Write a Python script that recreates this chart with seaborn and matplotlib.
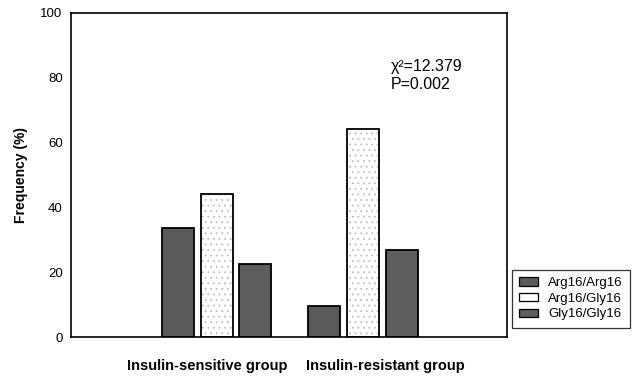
import matplotlib
matplotlib.use("Agg")
import matplotlib.pyplot as plt
import seaborn as sns
import pandas as pd
from matplotlib.patches import Patch, Rectangle

groups = ["Insulin-sensitive group", "Insulin-resistant group"]
genotypes = ["Arg16/Arg16", "Arg16/Gly16", "Gly16/Gly16"]
sensitive = [33.8, 44.2, 22.4]
resistant = [9.7, 64.2, 26.9]
yticks = [0, 20, 40, 60, 80, 100]

df = pd.DataFrame({
    "group": [groups[0]] * 3 + [groups[1]] * 3,
    "genotype": genotypes * 2,
    "freq": sensitive + resistant,
})

sns.set_theme(style="white")
plt.rcParams["font.family"] = ["Liberation Sans", "DejaVu Sans"]
plt.rcParams["text.color"] = "black"
plt.rcParams["axes.labelcolor"] = "black"
plt.rcParams["xtick.color"] = "black"
plt.rcParams["ytick.color"] = "black"
plt.rcParams["hatch.linewidth"] = 0.6

fig = plt.figure(figsize=(6.37, 3.8), dpi=100)
ax = fig.add_axes([0.1115, 0.113, 0.6845, 0.853])

colors = {"Arg16/Arg16": "#5a5a5a", "Arg16/Gly16": "#ffffff", "Gly16/Gly16": "#5e5e5e"}
sns.barplot(data=df, x="group", y="freq", hue="genotype", order=groups,
            hue_order=genotypes, palette=colors, width=0.79, gap=0.17,
            edgecolor="black", linewidth=1.3, ax=ax, legend=False)

for bar in list(ax.patches):
    fc = bar.get_facecolor()
    if fc[0] > 0.9:
        bar.set_hatch("...")
        bar.set_edgecolor("#bdbdbd")
        bar.set_linewidth(0)
        ax.add_patch(Rectangle((bar.get_x(), bar.get_y()), bar.get_width(), bar.get_height(),
                               fill=False, edgecolor="black", linewidth=1.3, zorder=bar.get_zorder() + 0.1))

ax.set_xlim(-0.993, 1.983)
ax.set_ylim(0, 100)
ax.set_yticks(yticks)
ax.set_yticklabels([str(t) for t in yticks], fontsize=9.5)
ax.tick_params(axis="y", direction="out", length=4, width=1.0, color="black", pad=2)
ax.tick_params(axis="x", length=0)
ax.set_xticks([-0.06, 1.15])
ax.set_xticklabels(groups, fontsize=10.5, fontweight="bold")
ax.tick_params(axis="x", pad=16)
ax.set_xlabel("")
ax.set_ylabel("Frequency (%)", fontsize=10, fontweight="bold", labelpad=9)
for s in ax.spines.values():
    s.set_visible(True)
    s.set_color("black")
    s.set_linewidth(1.2)

ax.text(1.19, 80.8, "\u03c7\u00b2=12.379\nP=0.002", fontsize=11.5, va="center", ha="left",
        linespacing=1.25)

handles = [Patch(facecolor=colors[g], edgecolor="black", linewidth=0.9) for g in genotypes]
leg = fig.legend(handles, genotypes, loc="upper left", bbox_to_anchor=(0.804, 0.29),
                 fontsize=9.5, frameon=True, fancybox=False, edgecolor="black",
                 handlelength=1.4, handleheight=0.6, handletextpad=0.8,
                 labelspacing=0.28, borderpad=0.55, borderaxespad=0)
leg.get_frame().set_linewidth(0.9)

fig.savefig("out.png", dpi=100)
